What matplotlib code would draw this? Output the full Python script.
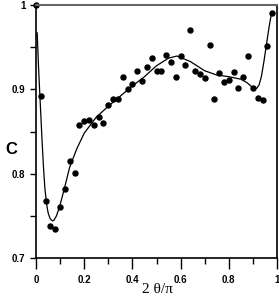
import numpy as np
import matplotlib
matplotlib.use("Agg")
import matplotlib.pyplot as plt

# puntos medidos
x_pts = [0.00, 0.02, 0.04, 0.06, 0.08, 0.10, 0.12, 0.14, 0.16, 0.18,
         0.20, 0.22, 0.24, 0.26, 0.28, 0.30, 0.32, 0.34, 0.36, 0.38,
         0.40, 0.42, 0.44, 0.46, 0.48, 0.50, 0.52, 0.54, 0.56, 0.58,
         0.60, 0.62, 0.64, 0.66, 0.68, 0.70, 0.72, 0.74, 0.76, 0.78,
         0.80, 0.82, 0.84, 0.86, 0.88, 0.90, 0.92, 0.94, 0.96, 0.98]
c_pts = [1.000, 0.892, 0.768, 0.738, 0.734, 0.761, 0.782, 0.815, 0.801, 0.858,
         0.862, 0.864, 0.858, 0.867, 0.860, 0.881, 0.889, 0.889, 0.915, 0.900,
         0.906, 0.922, 0.910, 0.926, 0.937, 0.922, 0.922, 0.941, 0.933, 0.915,
         0.940, 0.929, 0.970, 0.922, 0.918, 0.914, 0.952, 0.888, 0.919, 0.909,
         0.911, 0.921, 0.901, 0.915, 0.940, 0.902, 0.890, 0.887, 0.951, 0.990]

# curva de ajuste
x_fit = [0.005, 0.010, 0.014, 0.020, 0.025, 0.031, 0.037, 0.044, 0.050, 0.058,
         0.064, 0.069, 0.075, 0.085, 0.100, 0.120, 0.140, 0.170, 0.200, 0.250,
         0.300, 0.350, 0.400, 0.450, 0.500, 0.550, 0.585, 0.640, 0.700, 0.750,
         0.800, 0.850, 0.875, 0.895, 0.915, 0.925, 0.935, 0.945, 0.957, 0.967,
         0.978]
c_fit = [0.967, 0.930, 0.905, 0.870, 0.840, 0.808, 0.782, 0.764, 0.754, 0.747,
         0.745, 0.744, 0.745, 0.750, 0.763, 0.785, 0.808, 0.830, 0.848, 0.867,
         0.880, 0.892, 0.904, 0.915, 0.928, 0.937, 0.9395, 0.933, 0.922, 0.917,
         0.915, 0.912, 0.908, 0.903, 0.901, 0.905, 0.915, 0.932, 0.955, 0.974,
         0.992]

x_ticks = [0, 0.2, 0.4, 0.6, 0.8, 1.0]
x_labels = ['0', '0.2', '0.4', '0.6', '0.8', '1']
x_minor = [0.1, 0.3, 0.5, 0.7, 0.9]
y_ticks = [0.7, 0.8, 0.9, 1.0]
y_labels = ['0.7', '0.8', '0.9', '1']
y_minor = [0.75, 0.85, 0.95]

fig = plt.figure(figsize=(2.79, 3.02), dpi=100)
ax = fig.add_axes([0.129, 0.1457, 0.864, 0.8377])

ax.plot(x_fit, c_fit, color='black', linewidth=0.9)
ax.plot(x_pts, c_pts, 'o', color='black', markersize=3.6, clip_on=False)

ax.set_xlim(0, 1)
ax.set_ylim(0.7, 1.0)

ax.set_xticks(x_ticks)
ax.set_xticklabels(x_labels)
ax.set_xticks(x_minor, minor=True)
ax.set_yticks(y_ticks)
ax.set_yticklabels(y_labels)
ax.set_yticks(y_minor, minor=True)

ax.tick_params(which='major', axis='x', direction='out', length=8, width=1, pad=4)
ax.tick_params(which='minor', axis='x', direction='out', length=4.5, width=1)
ax.tick_params(which='both', axis='y', direction='out', length=4.5, width=1, pad=3)
for lab in ax.get_xticklabels() + ax.get_yticklabels():
    lab.set_fontfamily('Liberation Sans')
    lab.set_fontweight('bold')
    lab.set_fontsize(7)

for s in ['left', 'bottom', 'right']:
    ax.spines[s].set_linewidth(1.2)
    ax.spines[s].set_color('black')
ax.spines['top'].set_color('#666666')
ax.spines['top'].set_linewidth(1.5)

ax.text(-0.104, 0.43, 'C', transform=ax.transAxes, ha='center', va='center',
        fontsize=12, fontweight='bold', family='Liberation Sans')
ax.text(0.504, -0.125, u'2 \u03b8/\u03c0', transform=ax.transAxes, ha='center', va='center',
        fontsize=11, family='Liberation Serif')

fig.savefig('out.png', dpi=100)
